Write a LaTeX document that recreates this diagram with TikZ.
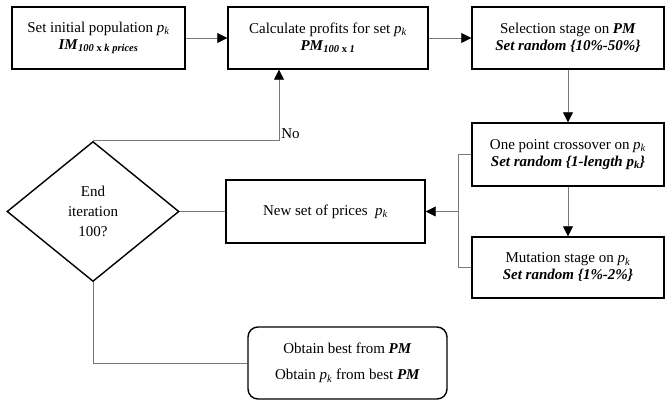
\documentclass[tikz,border=0pt]{standalone}
\usepackage{fontspec}
\setmainfont{Liberation Serif}
\usepackage{tikz}
\usetikzlibrary{arrows.meta, shapes.geometric}
\definecolor{flowgray}{RGB}{120, 120, 120}
\newcommand{\pk}{\textit{p}\textsubscript{\textit{k}}}
\newcommand{\bi}[1]{\textbf{\textit{#1}}}

\begin{document}
\begin{tikzpicture}[x=1pt, y=-1pt,
    stagebox/.style={draw, line width=1.4pt, align=center, inner sep=0pt, font=\fontsize{15}{17}\selectfont},
    flow/.style={flowgray, line width=0.8pt},
    flowarrow/.style={flow, -{Triangle[length=10pt, width=10pt, fill=black, color=black]}}]
    \useasboundingbox (0,0) rectangle (665,401);

    % Top row
    \node[stagebox, minimum width=173pt, minimum height=62pt] (initpop) at (98.5, 38) {Set initial population \pk\\ \bi{IM}\textsubscript{\bi{100} \textbf{x} \bi{k prices}}};
    \node[stagebox, minimum width=200pt, minimum height=62pt] (profits) at (328, 38) {Calculate profits for set \pk\\ \bi{PM}\textsubscript{\bi{100} \textbf{x} \bi{1}}};
    \node[stagebox, minimum width=192pt, minimum height=62pt] (selection) at (568, 38) {Selection stage on \bi{PM}\\ \bi{Set random \{10\%-50\%\}}};

    % Right column
    \node[stagebox, minimum width=192pt, minimum height=63pt] (crossover) at (568, 154.5) {One point crossover on \pk\\ \bi{Set random \{1-length p\textsubscript{k}\}}};
    \node[stagebox, minimum width=192pt, minimum height=61pt] (mutation) at (568, 267.5) {Mutation stage on \pk\\ \bi{Set random \{1\%-2\%\}}};

    % Middle row
    \node[stagebox, minimum width=199pt, minimum height=63pt] (newprices) at (325.5, 211.5) {New set of prices~ \pk};
    \node[stagebox, shape=diamond, minimum width=172pt, minimum height=140pt, font=\fontsize{15}{20}\selectfont] (enditer) at (93, 211.5) {End\\ iteration\\ 100?};

    % Result
    \node[stagebox, rounded corners=10pt, minimum width=199pt, minimum height=72pt] (best) at (347.5, 363) {Obtain best from \bi{PM}\\[9pt] Obtain \pk{} from best \bi{PM}};

    % Connectors
    \coordinate (split) at (458, 211.5);
    \draw[flowarrow] (initpop) -- (profits);
    \draw[flowarrow] (profits) -- (selection);
    \draw[flowarrow] (selection) -- (crossover);
    \draw[flowarrow] (crossover) -- (mutation);
    \draw[flow] (crossover.west) -| (split);
    \draw[flow] (mutation.west) -| (split);
    \draw[flowarrow] (split) -- (newprices.east);
    \draw[flow] (newprices) -- (enditer);
    \draw[flowarrow] (enditer.north) -| ([xshift=-49pt]profits.south) node[pos=0.5, above right, text=black, font=\fontsize{15}{17}\selectfont, inner sep=2pt] {No};
    \draw[flow] (enditer.south) |- (best.west);
\end{tikzpicture}
\end{document}
